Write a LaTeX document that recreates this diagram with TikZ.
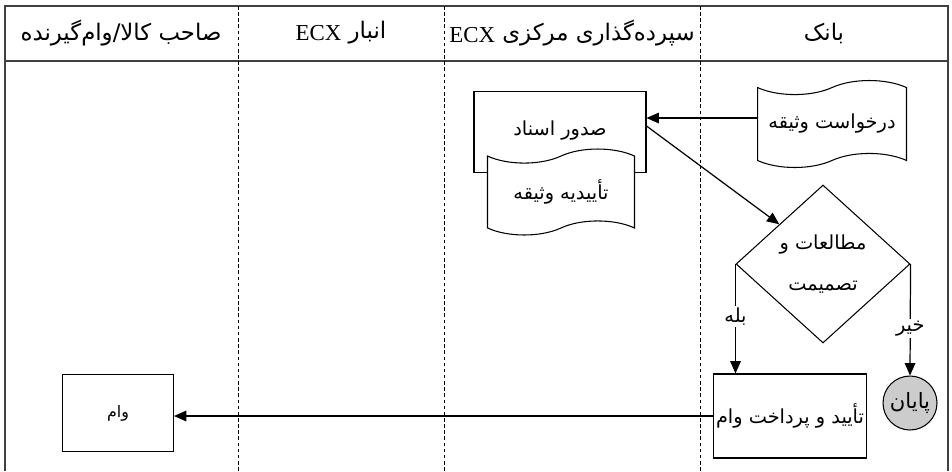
\documentclass[tikz,border=0pt]{standalone}
\usepackage{fontspec}
\setmainfont{Liberation Serif}
\newfontfamily\farsi[Script=Arabic]{DejaVu Sans}
\TeXXeTstate=1
\usetikzlibrary{positioning, arrows.meta, shapes.geometric, shapes.symbols}
\newcommand{\fatxt}[1]{{\farsi\beginR #1\endR}}
\newcommand{\ecx}{\beginL\raisebox{-1pt}{\rmfamily ECX}\endL}

\begin{document}
\begin{tikzpicture}[x=0.02cm, y=-0.02cm, >={Triangle[length=7pt, width=6pt]},
  lane/.style={line width=0.8pt, black!75},
  divider/.style={line width=0.5pt, dash pattern=on 2pt off 1.5pt},
  head/.style={font=\fontsize{13}{15}\selectfont},
  box/.style={draw, line width=0.6pt, inner sep=0pt, font=\fontsize{11}{13}\selectfont},
  doc/.style={box, tape, fill=white, tape bend height=8pt},
  link/.style={->, line width=0.7pt}]
  \useasboundingbox (0,0) rectangle (952,471);
  % lanes
  \draw[lane] (5,471) -- (5,6) -- (948,6) -- (948,471);
  \draw[lane] (5,61) -- (948,61);
  \foreach \x in {238,444,700} \draw[divider] (\x,6) -- (\x,471);
  \node[head] at (121,33) (H1) {\fatxt{صاحب کالا/وام‌گیرنده}};
  \node[head] at (341,33) (H2) {\fatxt{انبار \ecx}};
  \node[head] at (572,33) (H3) {\fatxt{سپرده‌گذاری مرکزی \ecx}};
  \node[head] at (824,33) (H4) {\fatxt{بانک}};
  % shapes
  \node[doc, minimum width=2.98cm, minimum height=1.74cm] at (832,124) (A) {\fatxt{درخواست وثیقه}};
  \node[box, minimum width=3.44cm, minimum height=1.62cm, text depth=0.15cm] at (560,132) (B) {\fatxt{صدور اسناد}};
  \node[doc, minimum width=2.94cm, minimum height=1.72cm] at (561,192) (C) {\fatxt{تأییدیه وثیقه}};
  \node[box, diamond, aspect=1.1, minimum width=3.48cm, minimum height=3.16cm, align=center] at (823,264) (D) {\fatxt{مطالعات و}\\[10pt]\fatxt{تصمیمت}};
  \node[box, minimum width=3.06cm, minimum height=1.68cm] at (790,416) (E) {\fatxt{تأیید و پرداخت وام}};
  \node[box, circle, fill=gray!40, minimum size=1.08cm, font=\fontsize{12}{14}\selectfont] at (910,403) (F) {\fatxt{پایان}};
  \node[box, minimum width=2.22cm, minimum height=1.54cm, font=\fontsize{9}{11}\selectfont] at (118,413) (G) {\fatxt{وام}};
  % connectors
  \draw[link] ([yshift=0.12cm]A.west) -- ([yshift=0.12cm]A.west -| B.east);
  \draw[link] ([yshift=0.12cm]B.east) -- (D.north west);
  \draw[link] (D.west) -- node[fill=white, inner sep=1pt, pos=0.48, font=\fontsize{11}{13}\selectfont] (L1) {\fatxt{بله}} (D.west |- E.north);
  \draw[link] (D.east) -- node[fill=white, inner sep=1pt, pos=0.58, font=\fontsize{11}{13}\selectfont] (L2) {\fatxt{خیر}} (F.north);
  \draw[link] (E.west) -- (E.west -| G.east);
\end{tikzpicture}
\end{document}
